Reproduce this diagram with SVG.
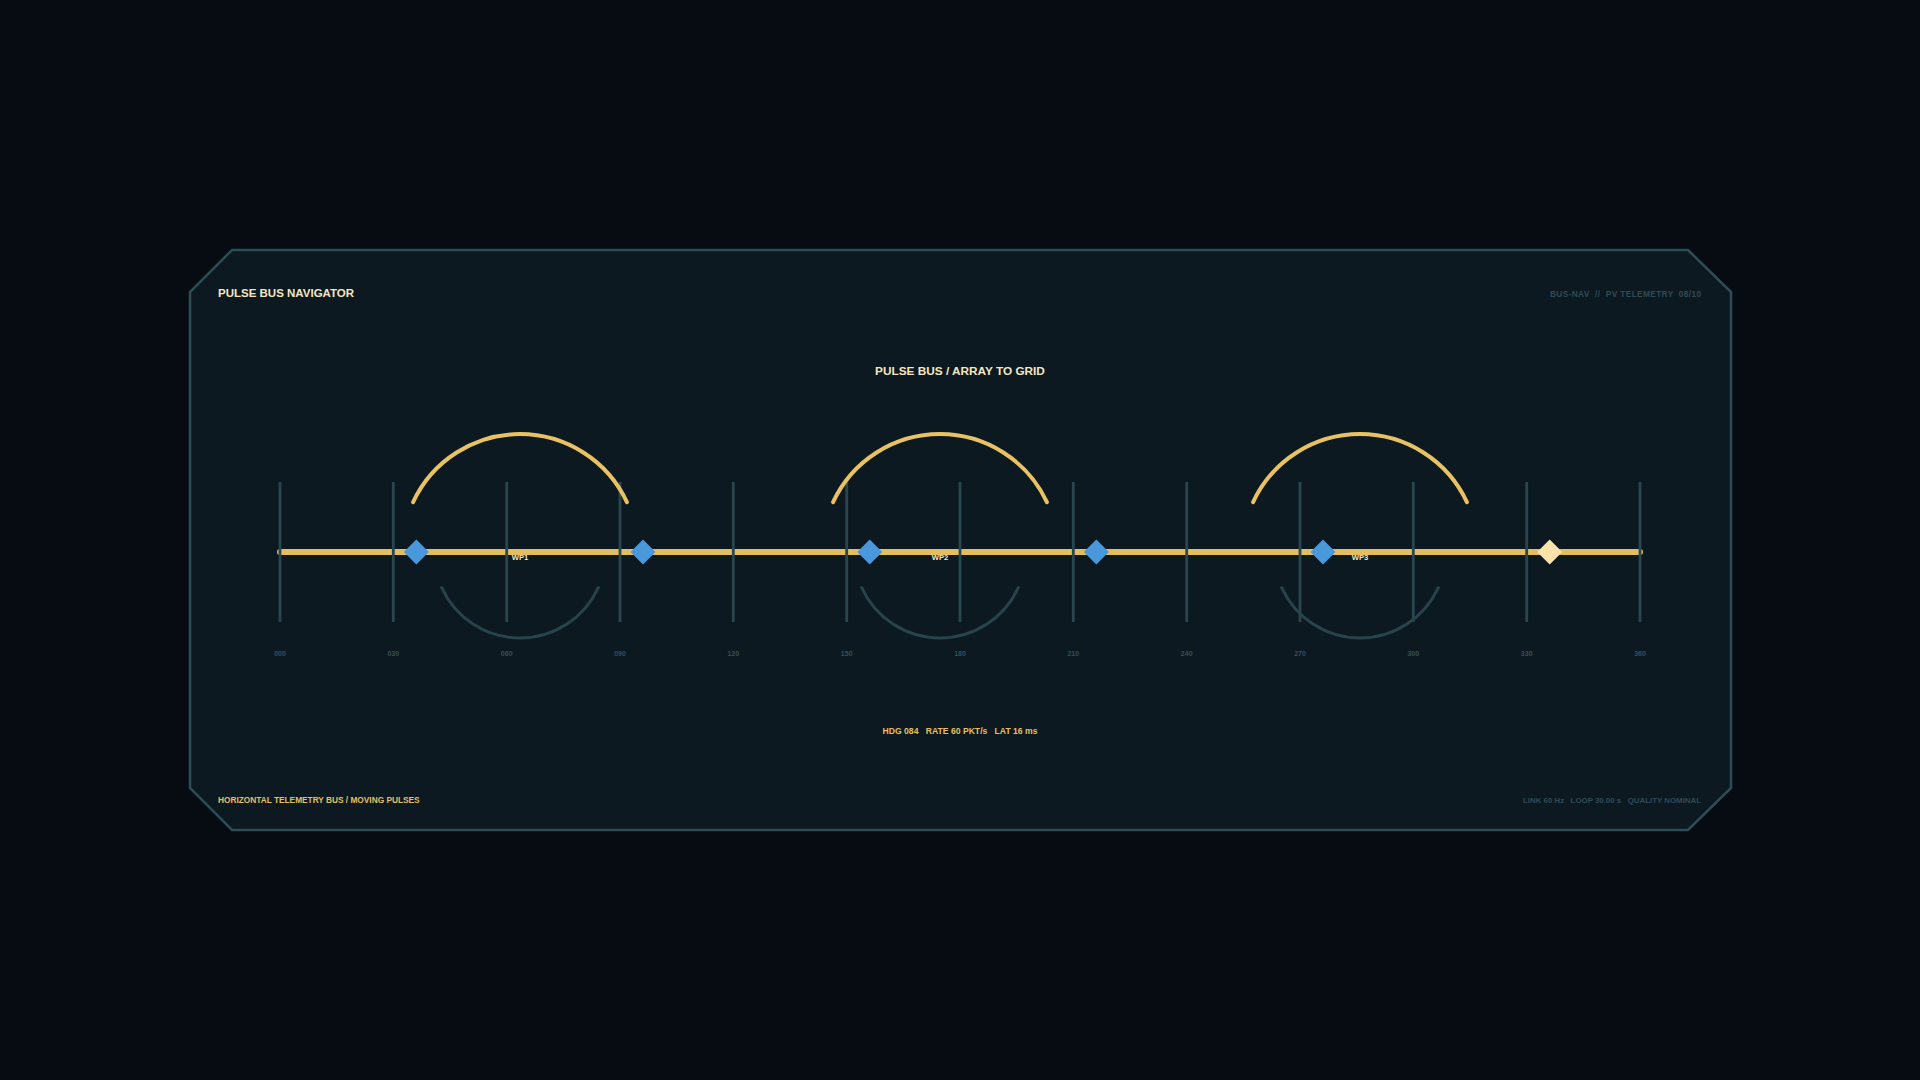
<svg xmlns="http://www.w3.org/2000/svg" width="1920" height="1080" viewBox="0 0 1920 1080">
  <defs>
    <style>
      text { font-family: "Liberation Sans", Arial, sans-serif; font-weight: bold; white-space: pre; }
      .title { fill: #f6e6c0; font-size: 11.5px; }
      .center-title { fill: #f6e6c0; font-size: 11.8px; text-anchor: middle; }
      .dim { fill: #2f4b55; font-size: 8.3px; text-anchor: end; }
      .gold { fill: #e6c060; font-size: 8.3px; }
      .status { fill: #e6c060; font-size: 8.6px; text-anchor: middle; }
      .tick { stroke: #2a464f; stroke-width: 2.8; }
      .ticklbl { fill: #33505a; font-size: 7px; text-anchor: middle; }
      .arc-up { fill: none; stroke: #e8c263; stroke-width: 4; stroke-linecap: round; }
      .arc-down { fill: none; stroke: #27434b; stroke-width: 3; stroke-linecap: round; }
      .wp { fill: #4a98dc; }
      .wp-active { fill: #fce2ab; }
      .wplbl { fill: #f3e6c4; font-size: 7.6px; text-anchor: middle; }
    </style>
  </defs>

  <rect width="1920" height="1080" fill="#070c13"/>

  <g id="panel">
    <polygon points="232,250 1688,250 1731,292 1731,788 1688,830 232,830 190,788 190,292" fill="#0d1921" stroke="#2d4d56" stroke-width="2.5"/>
    <text class="title" x="218" y="297">PULSE BUS NAVIGATOR</text>
    <text class="dim" x="1701" y="297" textLength="151" lengthAdjust="spacing">BUS-NAV  //  PV TELEMETRY  08/10</text>
    <text class="center-title" x="960" y="375">PULSE BUS / ARRAY TO GRID</text>
    <text class="status" x="960" y="734" textLength="155" lengthAdjust="spacing">HDG 084   RATE 60 PKT/s   LAT 16 ms</text>
    <text class="gold" x="218" y="803">HORIZONTAL TELEMETRY BUS / MOVING PULSES</text>
    <text class="dim" x="1701" y="803" style="font-size:7.9px" textLength="178" lengthAdjust="spacing">LINK 60 Hz   LOOP 30.00 s   QUALITY NOMINAL</text>
  </g>

  <g id="connectors">
    <line id="bus" x1="280" y1="552" x2="1640" y2="552" stroke="#e5bd5c" stroke-width="6" stroke-linecap="round"/>
  </g>

  <g id="ticks">
    <line class="tick" x1="280" y1="482" x2="280" y2="622"/>
    <line class="tick" x1="393.3" y1="482" x2="393.3" y2="622"/>
    <line class="tick" x1="506.7" y1="482" x2="506.7" y2="622"/>
    <line class="tick" x1="620" y1="482" x2="620" y2="622"/>
    <line class="tick" x1="733.3" y1="482" x2="733.3" y2="622"/>
    <line class="tick" x1="846.7" y1="482" x2="846.7" y2="622"/>
    <line class="tick" x1="960" y1="482" x2="960" y2="622"/>
    <line class="tick" x1="1073.3" y1="482" x2="1073.3" y2="622"/>
    <line class="tick" x1="1186.7" y1="482" x2="1186.7" y2="622"/>
    <line class="tick" x1="1300" y1="482" x2="1300" y2="622"/>
    <line class="tick" x1="1413.3" y1="482" x2="1413.3" y2="622"/>
    <line class="tick" x1="1526.7" y1="482" x2="1526.7" y2="622"/>
    <line class="tick" x1="1640" y1="482" x2="1640" y2="622"/>
    <text class="ticklbl" x="280" y="655.5">000</text>
    <text class="ticklbl" x="393.3" y="655.5">030</text>
    <text class="ticklbl" x="506.7" y="655.5">060</text>
    <text class="ticklbl" x="620" y="655.5">090</text>
    <text class="ticklbl" x="733.3" y="655.5">120</text>
    <text class="ticklbl" x="846.7" y="655.5">150</text>
    <text class="ticklbl" x="960" y="655.5">180</text>
    <text class="ticklbl" x="1073.3" y="655.5">210</text>
    <text class="ticklbl" x="1186.7" y="655.5">240</text>
    <text class="ticklbl" x="1300" y="655.5">270</text>
    <text class="ticklbl" x="1413.3" y="655.5">300</text>
    <text class="ticklbl" x="1526.7" y="655.5">330</text>
    <text class="ticklbl" x="1640" y="655.5">360</text>
  </g>

  <g id="wp1">
    <path class="arc-up" d="M413.1,502.1 A118,118 0 0 1 626.9,502.1"/>
    <path class="arc-down" d="M441.7,587.6 A86,86 0 0 0 598.3,587.6"/>
    <text class="wplbl" x="520" y="559.5">WP1</text>
  </g>
  <g id="wp2">
    <path class="arc-up" d="M833.1,502.1 A118,118 0 0 1 1046.9,502.1"/>
    <path class="arc-down" d="M861.7,587.6 A86,86 0 0 0 1018.3,587.6"/>
    <text class="wplbl" x="940" y="559.5">WP2</text>
  </g>
  <g id="wp3">
    <path class="arc-up" d="M1253.1,502.1 A118,118 0 0 1 1466.9,502.1"/>
    <path class="arc-down" d="M1281.7,587.6 A86,86 0 0 0 1438.3,587.6"/>
    <text class="wplbl" x="1360" y="559.5">WP3</text>
  </g>

  <g id="pulses">
    <polygon id="pulse1" class="wp" points="416.3,539.5 428.8,552 416.3,564.5 403.8,552"/>
    <polygon id="pulse2" class="wp" points="643,539.5 655.5,552 643,564.5 630.5,552"/>
    <polygon id="pulse3" class="wp" points="869.7,539.5 882.2,552 869.7,564.5 857.2,552"/>
    <polygon id="pulse4" class="wp" points="1096.3,539.5 1108.8,552 1096.3,564.5 1083.8,552"/>
    <polygon id="pulse5" class="wp" points="1323,539.5 1335.5,552 1323,564.5 1310.5,552"/>
    <polygon id="pulse6" class="wp-active" points="1549.7,539.5 1562.2,552 1549.7,564.5 1537.2,552"/>
  </g>
</svg>
